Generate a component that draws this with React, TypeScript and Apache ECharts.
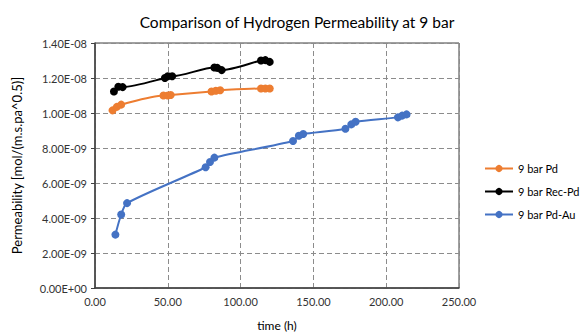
import React, { useEffect, useRef } from "react";
import * as echarts from "echarts";

const pdTime = [12, 15, 18, 47, 50, 52, 80, 83, 86, 114, 117, 120];
const pdVal = [1.015e-8, 1.035e-8, 1.048e-8, 1.1e-8, 1.1e-8, 1.103e-8, 1.123e-8, 1.127e-8, 1.13e-8, 1.14e-8, 1.14e-8, 1.14e-8];

const recTime = [13, 16, 19, 48, 50, 53, 82, 84, 87, 114, 117, 120];
const recVal = [1.123e-8, 1.15e-8, 1.148e-8, 1.2e-8, 1.21e-8, 1.21e-8, 1.26e-8, 1.258e-8, 1.245e-8, 1.3e-8, 1.302e-8, 1.292e-8];

const auTime = [14, 18, 22, 76, 79, 82, 136, 140, 143, 172, 176, 179, 208, 211, 214];
const auVal = [3.05e-9, 4.2e-9, 4.85e-9, 6.9e-9, 7.2e-9, 7.45e-9, 8.4e-9, 8.7e-9, 8.8e-9, 9.1e-9, 9.35e-9, 9.5e-9, 9.75e-9, 9.85e-9, 9.92e-9];

const seriesNames = ["9 bar Pd", "9 bar Rec-Pd", "9 bar Pd-Au"];
const seriesColors = ["#ED7D31", "#000000", "#4472C4"];

const FONT = "Lato, 'Open Sans', sans-serif";

function fmtExp(v: number): string {
  if (v === 0) return "0.00E+00";
  const s = v.toExponential(2);
  const [m, e] = s.split("e");
  const sign = e[0] === "-" ? "-" : "+";
  const digits = e.replace(/[+-]/, "").padStart(2, "0");
  return `${m}E${sign}${digits}`;
}

function pairs(t: number[], v: number[]) {
  return t.map((x, i) => [x, v[i]]);
}

export default function App() {
  const ref = useRef<HTMLDivElement>(null);
  useEffect(() => {
    if (!ref.current) return;
    const chart = echarts.init(ref.current, null, { renderer: "svg" });
    const datas = [pairs(pdTime, pdVal), pairs(recTime, recVal), pairs(auTime, auVal)];
    chart.setOption({
      animation: false,
      backgroundColor: "#ffffff",
      title: {
        text: "Comparison of Hydrogen Permeability at 9 bar",
        left: 292,
        textAlign: "center",
        top: 9,
        textStyle: { fontFamily: FONT, fontSize: 15.5, fontWeight: "normal", color: "#000" },
      },
      legend: {
        orient: "vertical",
        left: 484,
        top: 163,
        padding: 0,
        itemWidth: 28,
        itemHeight: 9,
        itemGap: 12,
        data: seriesNames,
        textStyle: { fontFamily: FONT, fontSize: 11, color: "#000" },
      },
      grid: {
        left: 95,
        right: 128,
        top: 43,
        bottom: 47,
        show: true,
        borderColor: "#404040",
        borderWidth: 1,
      },
      xAxis: {
        type: "value",
        min: 0,
        max: 250,
        interval: 50,
        name: "time (h)",
        nameLocation: "middle",
        nameGap: 31,
        nameTextStyle: { fontFamily: FONT, fontSize: 12, fontWeight: "normal", color: "#000" },
        axisLine: { show: true, lineStyle: { color: "#404040", width: 1.5 } },
        axisTick: { show: false },
        axisLabel: {
          fontFamily: FONT,
          fontSize: 11,
          color: "#333",
          formatter: (v: number) => v.toFixed(2),
        },
        splitLine: { show: true, lineStyle: { color: "#8c8c8c", type: [5, 3], width: 1 } },
      },
      yAxis: {
        type: "value",
        min: 0,
        max: 1.4e-8,
        interval: 2e-9,
        name: "Permeability [mol/(m.s.pa^0.5)]",
        nameLocation: "middle",
        nameGap: 72,
        nameTextStyle: { fontFamily: FONT, fontSize: 13, fontWeight: "normal", color: "#000" },
        axisLine: { show: true, lineStyle: { color: "#404040", width: 1.5 } },
        axisTick: { show: true, length: 4, lineStyle: { color: "#404040" } },
        axisLabel: {
          fontFamily: FONT,
          fontSize: 11,
          color: "#333",
          margin: 8,
          formatter: (v: number) => fmtExp(v),
        },
        splitLine: { show: true, lineStyle: { color: "#8c8c8c", type: [5, 3], width: 1 } },
      },
      series: seriesNames.map((n, i) => ({
        name: n,
        type: "line",
        data: datas[i],
        smooth: 0.25,
        symbol: "circle",
        symbolSize: 8,
        itemStyle: { color: seriesColors[i] },
        lineStyle: { color: seriesColors[i], width: 2 },
      })),
    });
    return () => chart.dispose();
  }, []);
  return (
    <div
      ref={ref}
      style={{ position: "fixed", left: 0, top: 0, width: 587, height: 336 }}
    />
  );
}
